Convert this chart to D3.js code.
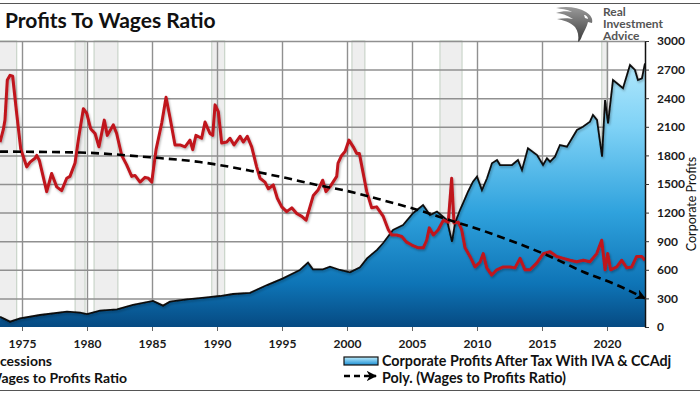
<!DOCTYPE html>
<html><head><meta charset="utf-8">
<script src="https://cdn.jsdelivr.net/npm/d3@7"></script>
<style>
body{margin:0;background:#fff}
svg{display:block}
text{font-family:Lato,'Open Sans',sans-serif}
</style>
</head><body>
<svg id="c" width="700" height="394"></svg>
<script>
// ---- data ----
const xTickYears=[1975,1980,1985,1990,1995,2000,2005,2010,2015,2020];
const rightTicks=[0,300,600,900,1200,1500,1800,2100,2400,2700,3000];
const recessionStarts=[1972.8,1979.08,1980.54,1989.6,2000.38,2007.15,2019.6];
const recessionEnds  =[1974.6,1979.85,1982.38,1990.6,2001.38,2008.85,2020.0];

const profitYears=[1973.31,1974.08,1974.85,1976.38,1978.46,1979.46,1980.0,1981.0,1982.31,1983.54,1985.08,1985.85,1986.38,1987.69,1989.23,1990.23,1991.23,1992.54,1993.85,1995.08,1996.38,1997.0,1997.38,1998.15,1998.69,1999.46,2000.23,2001.0,2001.54,2002.31,2002.77,2003.54,2004.31,2005.08,2005.85,2006.38,2006.92,2007.69,2008.08,2008.31,2008.69,2008.92,2009.31,2009.69,2010.0,2010.38,2010.77,2011.15,2011.54,2011.77,2012.69,2013.15,2013.46,2013.92,2014.62,2015.08,2015.38,2015.62,2016.0,2016.38,2016.92,2017.69,2018.15,2018.69,2018.92,2019.23,2019.62,2019.85,2020.08,2020.46,2021.23,2021.77,2022.15,2022.38,2022.69,2022.92];
const profitValues=[108,56,91,126,161,150,136,171,185,231,273,224,266,290,311,325,346,358,440,510,598,675,605,605,633,598,574,626,720,808,878,1018,1070,1193,1280,1175,1210,1122,895,1090,1227,1297,1419,1524,1577,1437,1560,1717,1752,1699,1699,1752,1647,1874,1804,1699,1769,1734,1787,1909,1892,2067,2101,2154,2224,2172,1787,2381,2137,2591,2504,2748,2696,2591,2609,2766];

const ratioYears=[1973.31,1973.56,1973.69,1973.87,1974.08,1974.28,1974.59,1974.90,1975.36,1975.62,1976.00,1976.13,1976.33,1976.90,1977.28,1977.67,1978.05,1978.44,1978.69,1979.08,1979.33,1979.72,1979.98,1980.28,1980.62,1980.92,1981.33,1981.56,1982.02,1982.28,1982.67,1983.05,1983.44,1983.69,1984.08,1984.46,1984.72,1984.98,1985.31,1985.75,1986.08,1986.38,1986.77,1987.15,1987.54,1987.92,1988.13,1988.38,1988.82,1989.08,1989.46,1989.67,1989.85,1990.10,1990.36,1990.75,1991.00,1991.31,1991.77,1992.02,1992.33,1992.67,1993.05,1993.31,1993.69,1993.95,1994.33,1994.64,1994.98,1995.36,1995.75,1996.13,1996.52,1996.85,1997.15,1997.41,1997.79,1998.13,1998.38,1998.69,1999.21,1999.31,1999.59,1999.85,2000.15,2000.48,2000.75,2000.95,2001.52,2001.90,2002.28,2002.79,2003.18,2003.44,2003.82,2004.21,2004.59,2004.98,2005.48,2005.87,2006.13,2006.33,2006.64,2007.02,2007.41,2007.79,2008.05,2008.23,2008.56,2008.82,2009.08,2009.46,2009.85,2010.23,2010.48,2010.75,2011.13,2011.52,2012.02,2012.54,2012.92,2013.31,2013.69,2014.08,2014.59,2015.10,2015.62,2016.13,2016.64,2017.15,2017.67,2018.18,2018.69,2019.21,2019.59,2019.85,2020.05,2020.28,2020.75,2021.13,2021.52,2021.90,2022.28,2022.67,2022.92];
const ratioValues=[19.4,20.7,21.7,25.9,26.4,26.3,22.4,18.7,16.8,17.3,17.7,18.0,17.5,14.2,16.1,14.7,14.3,15.6,15.8,17.2,19.6,22.9,22.4,20.8,20.3,18.9,21.7,20.1,21.2,20.3,18.0,17.0,15.8,15.9,15.2,15.7,15.6,15.2,18.6,21.4,24.1,22.0,19.1,19.1,18.9,19.6,18.6,20.1,19.8,21.5,20.3,20.1,23.3,22.6,19.3,19.4,19.8,19.1,20.0,19.4,20.0,18.9,16.8,15.6,15.2,14.5,14.9,13.5,12.6,12.1,12.5,11.9,11.6,11.2,12.6,13.8,14.4,15.4,14.2,14.7,15.8,17.2,18.0,18.4,19.6,18.9,18.2,18.2,14.2,12.5,12.6,11.6,10.2,9.65,9.65,9.5,8.9,8.6,8.3,8.3,9.1,10.4,9.65,10.2,11.2,11.0,15.6,10.9,11.0,10.2,8.3,7.4,6.3,6.8,7.7,6.2,5.45,6.0,6.3,6.3,6.2,7.2,6.0,6.0,6.7,7.7,7.9,7.4,7.2,7.0,6.85,7.0,6.85,7.7,9.1,6.0,7.7,6.0,6.3,7.0,6.2,6.3,7.4,7.4,7.0];

const trendYears=[1973.31,1979.46,1984.85,1988.69,1992.54,1995.08,1997.69,2000.23,2002.77,2005.38,2007.92,2010.46,2013.08,2015.62,2018.15,2020.77,2022.92];
const trendValues=[18.4,18.3,17.8,17.3,16.4,15.7,14.9,14.2,13.3,12.3,11.2,10.1,8.8,7.4,5.8,4.4,3.0];

// ---- setup ----
const svg=d3.select("#c");
const plotL=0, plotR=645, plotT=41, plotB=327;
const x=d3.scaleLinear().domain([1975,2020]).range([22,607]);
const yR=d3.scaleLinear().domain([0,3000]).range([plotB,plotT]);
const yL=d3.scaleLinear().domain([0,30]).range([plotB,plotT]);

const defs=svg.append("defs");
const grad=defs.append("linearGradient").attr("id","areaGrad")
  .attr("gradientUnits","userSpaceOnUse").attr("x1",0).attr("x2",0).attr("y1",plotT).attr("y2",plotB);
[[0,"#c2effe"],[0.3,"#7fd2f6"],[0.6,"#2fa2dd"],[0.85,"#0e74b6"],[1,"#064a82"]].forEach(s=>
  grad.append("stop").attr("offset",s[0]).attr("stop-color",s[1]));
const lg=defs.append("linearGradient").attr("id","legGrad").attr("x1",0).attr("x2",0).attr("y1",0).attr("y2",1);
[[0,"#bfeefe"],[1,"#1c8fd3"]].forEach(s=>lg.append("stop").attr("offset",s[0]).attr("stop-color",s[1]));
const eg=defs.append("linearGradient").attr("id","eagleGrad").attr("x1",0).attr("x2",0).attr("y1",0).attr("y2",1);
[[0,"#9a9a9a"],[1,"#3a3a3a"]].forEach(s=>eg.append("stop").attr("offset",s[0]).attr("stop-color",s[1]));
defs.append("clipPath").attr("id","clip").append("rect")
  .attr("x",plotL).attr("y",plotT-2).attr("width",plotR-plotL).attr("height",plotB-plotT+2);
const sh=defs.append("filter").attr("id","shadow").attr("x","-10%").attr("y","-10%").attr("width","120%").attr("height","130%");
sh.append("feDropShadow").attr("dx",1).attr("dy",1.5).attr("stdDeviation",1).attr("flood-color","#000").attr("flood-opacity",0.3);
defs.append("marker").attr("id","arrow").attr("viewBox","0 0 10 10").attr("refX",9).attr("refY",5)
  .attr("markerWidth",4).attr("markerHeight",4).attr("orient","auto").attr("markerUnits","strokeWidth")
  .append("path").attr("d","M0,0 L10,5 L0,10 L3,5 Z").attr("fill","#000");

// top / bottom rules
svg.append("line").attr("x1",0).attr("x2",700).attr("y1",3.5).attr("y2",3.5).attr("stroke","#555").attr("stroke-width",1.2);
svg.append("line").attr("x1",0).attr("x2",700).attr("y1",390.5).attr("y2",390.5).attr("stroke","#555").attr("stroke-width",1.2);

// title
svg.append("text").attr("x",5).attr("y",28).attr("font-size",21).attr("font-weight",700).attr("fill","#111")
  .text("Profits To Wages Ratio");

// recession bands
svg.append("g").attr("clip-path","url(#clip)")
  .selectAll("rect").data(recessionStarts).join("rect")
  .attr("x",(d)=>x(d)).attr("width",(d,i)=>x(recessionEnds[i])-x(d))
  .attr("y",plotT).attr("height",plotB-plotT)
  .attr("fill","#eeeeee").attr("stroke","#b5c5b5").attr("stroke-width",0.8);

// gridlines via axes
const gy=svg.append("g").attr("class","gridy").attr("transform",`translate(${plotL},0)`)
  .call(d3.axisLeft(yR).tickValues(rightTicks.filter(d=>d>0)).tickSize(-(plotR-plotL)).tickFormat(""));
gy.select(".domain").remove();
gy.selectAll(".tick line").attr("stroke","#909090").attr("stroke-width",1.5);
const gx=svg.append("g").attr("class","gridx").attr("transform",`translate(0,${plotB})`)
  .call(d3.axisBottom(x).tickValues(xTickYears).tickSize(-(plotB-plotT)).tickFormat(""));
gx.select(".domain").remove();
gx.selectAll(".tick line").attr("stroke","#909090").attr("stroke-width",1.4);

const plot=svg.append("g").attr("clip-path","url(#clip)");

// area
const profitData=profitYears.map((d,i)=>({x:d,y:profitValues[i]}));
plot.append("path").datum(profitData)
  .attr("d",d3.area().x(d=>x(d.x)).y0(plotB).y1(d=>yR(d.y)))
  .attr("fill","url(#areaGrad)");
plot.append("path").datum(profitData)
  .attr("d",d3.line().x(d=>x(d.x)).y(d=>yR(d.y)))
  .attr("fill","none").attr("stroke","#0b0b0b").attr("stroke-width",1.8).attr("filter","url(#shadow)");

// ratio line
const ratioData=ratioYears.map((d,i)=>({x:d,y:ratioValues[i]}));
plot.append("path").datum(ratioData)
  .attr("d",d3.line().x(d=>x(d.x)).y(d=>yL(d.y)))
  .attr("fill","none").attr("stroke","#c0141e").attr("stroke-width",3).attr("stroke-linejoin","round")
  .attr("filter","url(#shadow)");

// trend line
const trendData=trendYears.map((d,i)=>({x:d,y:trendValues[i]}));
svg.append("path").datum(trendData)
  .attr("d",d3.line().curve(d3.curveMonotoneX).x(d=>x(d.x)).y(d=>yL(d.y)))
  .attr("fill","none").attr("stroke","#000").attr("stroke-width",2.6)
  .attr("stroke-dasharray","8,5").attr("marker-end","url(#arrow)");

// right axis
const ra=svg.append("g").attr("transform",`translate(${plotR},0)`)
  .call(d3.axisRight(yR).tickValues(rightTicks).tickFormat(d3.format("d")).tickSize(4).tickSizeOuter(0).tickPadding(8));
ra.select(".domain").attr("stroke","#111").attr("stroke-width",1.5);
ra.selectAll(".tick line").attr("stroke","#333");
ra.selectAll(".tick text").attr("font-size",12).attr("font-weight",700).attr("fill","#1a1a1a")
  .attr("font-family","Lato,'Open Sans',sans-serif");

// bottom axis
const ba=svg.append("g").attr("transform",`translate(0,${plotB})`)
  .call(d3.axisBottom(x).tickValues(xTickYears).tickFormat(d3.format("d")).tickSize(4).tickSizeOuter(0).tickPadding(8));
ba.select(".domain").remove();
ba.selectAll(".tick line").attr("stroke","#666");
ba.selectAll(".tick text").attr("font-size",12).attr("font-weight",700).attr("fill","#1a1a1a")
  .attr("font-family","Lato,'Open Sans',sans-serif");

// right axis title
svg.append("text").attr("transform","translate(696,204) rotate(-90)").attr("text-anchor","middle")
  .attr("font-size",12.5).attr("fill","#111").text("Corporate Profits");

// legend
const legY1=366, legY2=383;
svg.append("text").attr("x",52).attr("y",legY1).attr("text-anchor","end").attr("font-size",14).attr("font-weight",700).attr("fill","#111").text("Recessions");
svg.append("text").attr("x",127).attr("y",legY2).attr("text-anchor","end").attr("font-size",14).attr("font-weight",700).attr("fill","#111").text("Wages to Profits Ratio");
svg.append("rect").attr("x",344).attr("y",357).attr("width",34).attr("height",8).attr("fill","url(#legGrad)").attr("stroke","#111").attr("stroke-width",1.2);
svg.append("text").attr("x",382).attr("y",legY1).attr("font-size",14.3).attr("font-weight",700).attr("fill","#111").text("Corporate Profits After Tax With IVA & CCAdj");
svg.append("line").attr("x1",344).attr("x2",376).attr("y1",376).attr("y2",376).attr("stroke","#000").attr("stroke-width",2.6)
  .attr("stroke-dasharray","6,4").attr("marker-end","url(#arrow)");
svg.append("text").attr("x",382).attr("y",legY2).attr("font-size",14.3).attr("font-weight",700).attr("fill","#111").text("Poly. (Wages to Profits Ratio)");

// logo
const logo=svg.append("g");
logo.append("path").attr("fill","url(#eagleGrad)")
  .attr("d","M556,8 C566,6 578,7 586,12 C591,15 593,19 592,23 L588,22 C587,27 584,31 582,36 C581,39 580,41 578,42 C579,36 578,31 575,27 C570,22 563,20 557,19 C563,18 569,18 573,19 C567,15 561,13 556,13 C562,11 568,11 572,12 C567,9 561,9 556,8 Z");
logo.append("path").attr("fill","#fff")
  .attr("d","M584,15 C586,15 588,17 588,19 L585,18 Z");
[["Real",16],["Investment",28],["Advice",40]].forEach(t=>
  logo.append("text").attr("x",603).attr("y",t[1]).attr("font-size",12).attr("font-weight",700)
    .attr("font-family","'Liberation Sans',Arial,sans-serif").attr("fill","#555").text(t[0]));
</script>
</body></html>
